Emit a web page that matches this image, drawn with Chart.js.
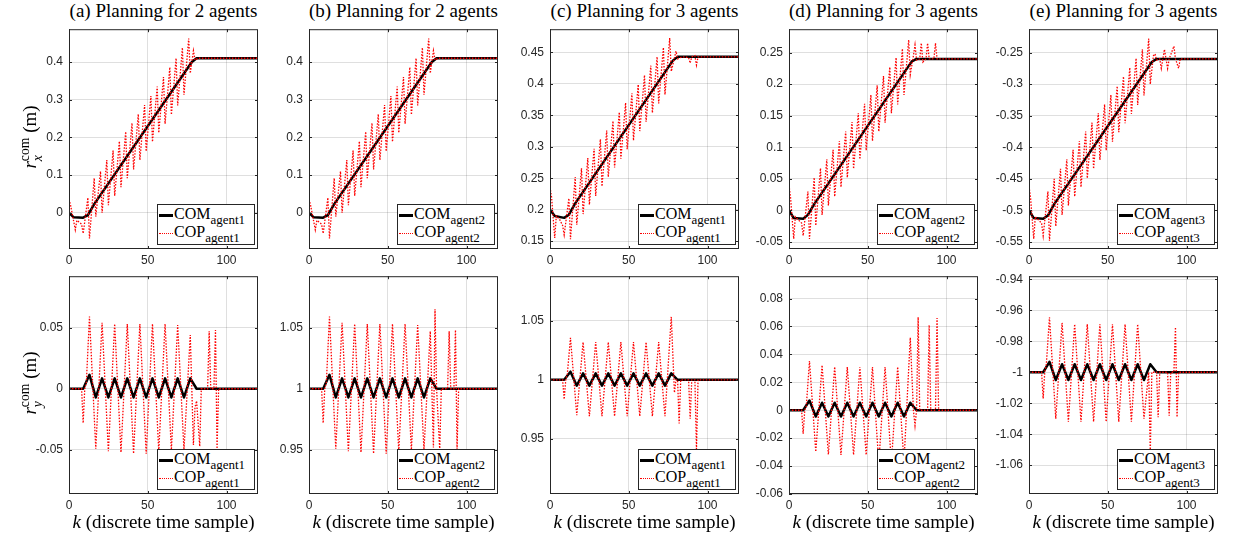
<!DOCTYPE html>
<html>
<head>
<meta charset="utf-8">
<script src="https://cdn.jsdelivr.net/npm/chart.js@4.4.1/dist/chart.umd.min.js"></script>
<style>
  body { margin: 0; background: #fff; width: 1236px; height: 537px; position: relative; overflow: hidden; font-family: 'Liberation Serif', 'DejaVu Serif', serif; color: #000; }
  .ax { position: absolute; }
  .ax canvas { display: block; }
  .title { position: absolute; top: 0; width: 189px; text-align: center; font-size: 19px; line-height: 21px; white-space: nowrap; }
  .xlabel { position: absolute; top: 511px; width: 189px; text-align: center; font-size: 19px; line-height: 22px; white-space: nowrap; }
  .ylabel { position: absolute; left: 31px; transform: translate(-50%, -50%) rotate(-90deg); font-size: 19px; white-space: nowrap; }
  .ss { display: inline-block; vertical-align: -0.45em; line-height: 0.95; font-size: 0.72em; text-align: left; }
  .ss span { display: block; }
  .leg { position: absolute; width: 98px; height: 41px; box-sizing: border-box; border: 1px solid #262626; background: #fff; font-size: 16px; }
  .leg .row { height: 18px; line-height: 18px; white-space: nowrap; padding-left: 1px; }
  .leg .sw { display: inline-block; width: 14px; vertical-align: middle; margin-right: 1px; }
  .leg .sw.com { border-top: 3px solid #000; }
  .leg .sw.cop { border-top: 1.5px dotted #f00; }
  .leg sub { font-size: 13px; vertical-align: -5px; line-height: 0; }
</style>
</head>
<body>
<script>
// sample axis
const kRange = [0, 120];
const kTicks = [0, 50, 100];

// ---- panel (a): agent1, 2-agent plan ----
const comXa = [[0,0],[3,-0.012],[9,-0.013],[12,-0.006],[16,0.023],[78,0.40],[81,0.41],[120,0.41]];
const copXa = [[0,0.036],[1,0.02],[4,-0.045],[5,-0.02],[8,-0.03],[9,-0.055],[12,0.04],[13,-0.068],
  [16,0.092],[17,-0.01],[20,0.11],[21,0.0],[24,0.14],[25,0.02],[28,0.165],[29,0.045],[32,0.19],[33,0.068],
  [36,0.215],[37,0.092],[40,0.238],[41,0.115],[44,0.262],[45,0.14],[48,0.286],[49,0.163],[52,0.31],[53,0.188],
  [56,0.335],[57,0.212],[60,0.36],[61,0.236],[64,0.386],[65,0.26],[68,0.41],[69,0.285],[72,0.438],[73,0.313],
  [76,0.462],[77,0.37],[79,0.43],[80,0.405],[82,0.41],[120,0.41]];
const comYa = [[0,0],[9,0],[13,0.0114],[17,-0.0071],[21,0.0085],[25,-0.0071],[29,0.0085],[33,-0.0071],
  [37,0.0085],[41,-0.0071],[45,0.0085],[49,-0.0071],[53,0.0085],[57,-0.0071],[61,0.0085],[65,-0.0071],
  [69,0.0085],[73,-0.0071],[77,0.0085],[81,0],[120,0]];
const copYa = [[0,0],[8,0],[9,-0.028],[10,0],[11,0.005],[13,0.059],[17,-0.049],[21,0.054],[25,-0.051],
  [29,0.053],[33,-0.052],[37,0.053],[41,-0.053],[45,0.053],[49,-0.053],[53,0.053],[57,-0.051],[61,0.053],
  [65,-0.05],[69,0.052],[73,-0.05],[77,0.044],[79,-0.046],[80,-0.015],[81,-0.01],[83,-0.047],[84,0],
  [88,0],[89,0.047],[90,0],[92,0],[93,0.048],[94,-0.049],[95,0],[120,0]];

// ---- panel (b): agent2, 2-agent plan ----
const comXb = comXa;
const copXb = copXa;
const comYb = [[0,1],[9,1],[13,1.0114],[17,0.9929],[21,1.0085],[25,0.9929],[29,1.0085],[33,0.9929],
  [37,1.0085],[41,0.9929],[45,1.0085],[49,0.9929],[53,1.0085],[57,0.9929],[61,1.0085],[65,0.9929],
  [69,1.0085],[73,0.9929],[77,1.0085],[81,1],[120,1]];
const copYb = [[0,1],[8,1],[9,0.972],[10,1],[11,1.005],[13,1.059],[17,0.951],[21,1.054],[25,0.949],
  [29,1.053],[33,0.948],[37,1.053],[41,0.947],[45,1.053],[49,0.947],[53,1.053],[57,0.949],[61,1.053],
  [65,0.95],[69,1.052],[73,0.95],[77,1.047],[79,0.952],[80,1.065],[81,1.0],[83,0.95],[84,1],
  [88,1],[89,1.047],[90,1],[92,1],[93,1.048],[94,0.951],[95,1],[120,1]];

// ---- panel (c): agent1, 3-agent plan ----
const comXc = [[0,0.2],[3,0.19],[9,0.187],[12,0.192],[16,0.21],[78,0.437],[81,0.443],[120,0.443]];
const copXc = [[0,0.236],[1,0.22],[3,0.155],[4,0.19],[6,0.185],[8,0.175],[9,0.16],[12,0.218],[13,0.153],
  [16,0.252],[17,0.176],[20,0.266],[21,0.193],[24,0.282],[25,0.208],[28,0.297],[29,0.222],[32,0.312],[33,0.237],
  [36,0.326],[37,0.252],[40,0.341],[41,0.267],[44,0.355],[45,0.281],[48,0.37],[49,0.296],[52,0.385],[53,0.31],
  [56,0.399],[57,0.325],[60,0.414],[61,0.34],[64,0.429],[65,0.354],[68,0.443],[69,0.369],[72,0.458],[73,0.383],
  [76,0.473],[77,0.42],[80,0.452],[81,0.44],[84,0.443],[88,0.442],[89,0.433],[90,0.443],[92,0.445],[93,0.43],
  [94,0.443],[120,0.443]];
const comYc = [[0,1],[9,1],[13,1.0069],[17,0.995],[21,1.0055],[25,0.995],[29,1.0055],[33,0.995],
  [37,1.0055],[41,0.995],[45,1.0055],[49,0.995],[53,1.0055],[57,0.995],[61,1.0055],[65,0.995],
  [69,1.0055],[73,0.995],[77,1.0055],[81,1],[120,1]];
const copYc = [[0,1],[8,1],[9,0.9834],[10,1],[11,1.005],[13,1.0356],[17,0.97],[21,1.032],[25,0.969],
  [29,1.032],[33,0.969],[37,1.032],[41,0.969],[45,1.032],[49,0.969],[53,1.032],[57,0.969],[61,1.032],
  [65,0.969],[69,1.032],[73,0.969],[77,1.0536],[79,0.989],[80,1],[81,1],[82,0.963],[83,1],[88,1],
  [89,0.967],[90,1],[92,1],[93,0.94],[94,1],[120,1]];

// ---- panel (d): agent2, 3-agent plan ----
const comXd = [[0,0],[3,-0.012],[9,-0.013],[12,-0.007],[16,0.01],[78,0.236],[81,0.24],[120,0.24]];
const copXd = [[0,0.04],[1,0.02],[3,-0.045],[4,-0.01],[8,-0.02],[9,-0.04],[12,0.03],[13,-0.045],
  [16,0.052],[17,-0.024],[20,0.067],[21,-0.007],[24,0.081],[25,0.008],[28,0.096],[29,0.022],[32,0.11],[33,0.037],
  [36,0.125],[37,0.052],[40,0.14],[41,0.066],[44,0.154],[45,0.081],[48,0.169],[49,0.095],[52,0.183],[53,0.11],
  [56,0.198],[57,0.125],[60,0.213],[61,0.139],[64,0.227],[65,0.154],[68,0.242],[69,0.168],[72,0.256],[73,0.183],
  [76,0.27],[77,0.215],[79,0.245],[80,0.262],[81,0.238],[83,0.24],[84,0.265],[85,0.235],[87,0.24],[88,0.265],
  [89,0.24],[92,0.24],[93,0.265],[94,0.24],[120,0.24]];
const comYd = [[0,0],[9,0],[13,0.007],[17,-0.0045],[21,0.0054],[25,-0.0045],[29,0.0054],[33,-0.0045],
  [37,0.0054],[41,-0.0045],[45,0.0054],[49,-0.0045],[53,0.0054],[57,-0.0045],[61,0.0054],[65,-0.0045],
  [69,0.0054],[73,-0.0045],[77,0.0054],[81,0],[120,0]];
const copYd = [[0,0],[8,0],[9,-0.0168],[10,0],[11,0.003],[13,0.0353],[17,-0.0297],[21,0.0323],[25,-0.0316],
  [29,0.031],[33,-0.032],[37,0.031],[41,-0.032],[45,0.031],[49,-0.032],[53,0.031],[57,-0.038],[61,0.031],
  [65,-0.038],[69,0.031],[73,-0.037],[77,0.052],[79,0],[80,-0.011],[81,0],[82,0.0667],[83,0],[88,0],
  [89,0.061],[90,0],[93,0],[94,0.066],[95,0],[120,0]];

// ---- panel (e): agent3, 3-agent plan ----
const comXe = [[0,-0.5],[3,-0.512],[9,-0.513],[12,-0.508],[16,-0.49],[78,-0.265],[81,-0.26],[120,-0.26]];
const copXe = [[0,-0.462],[1,-0.48],[3,-0.545],[4,-0.51],[8,-0.52],[9,-0.54],[12,-0.47],[13,-0.548],
  [16,-0.45],[17,-0.525],[20,-0.434],[21,-0.507],[24,-0.419],[25,-0.492],[28,-0.404],[29,-0.478],[32,-0.39],[33,-0.463],
  [36,-0.375],[37,-0.449],[40,-0.361],[41,-0.434],[44,-0.346],[45,-0.42],[48,-0.332],[49,-0.405],[52,-0.317],[53,-0.391],
  [56,-0.303],[57,-0.376],[60,-0.288],[61,-0.362],[64,-0.274],[65,-0.347],[68,-0.259],[69,-0.333],[72,-0.245],[73,-0.318],
  [76,-0.228],[77,-0.3],[79,-0.255],[80,-0.252],[81,-0.262],[83,-0.26],[84,-0.275],[86,-0.245],[88,-0.275],
  [89,-0.26],[92,-0.24],[93,-0.26],[95,-0.275],[96,-0.26],[120,-0.26]];
const comYe = [[0,-1],[9,-1],[13,-0.9933],[17,-1.005],[21,-0.9948],[25,-1.005],[29,-0.9948],[33,-1.005],
  [37,-0.9948],[41,-1.005],[45,-0.9948],[49,-1.005],[53,-0.9948],[57,-1.005],[61,-0.9948],[65,-1.005],
  [69,-0.9948],[73,-1.005],[77,-0.9948],[81,-1],[120,-1]];
const copYe = [[0,-1],[8,-1],[9,-1.017],[10,-1],[11,-0.995],[13,-0.9646],[17,-1.03],[21,-0.968],[25,-1.032],
  [29,-0.969],[33,-1.032],[37,-0.969],[41,-1.032],[45,-0.969],[49,-1.032],[53,-0.969],[57,-1.032],[61,-0.969],
  [65,-1.032],[69,-0.969],[73,-1.03],[76,-1.0],[77,-1.052],[78,-1],[81,-1],[82,-1.029],[83,-1],[88,-1],
  [89,-1.028],[90,-1],[92,-1],[93,-0.971],[94,-1.029],[95,-1],[120,-1]];

// y tick labels per axes
const ticksXab = [0, 0.1, 0.2, 0.3, 0.4];
const ticksYa = [-0.05, 0, 0.05];
const ticksYbc = [0.95, 1, 1.05];
const ticksXc = [0.15, 0.2, 0.25, 0.3, 0.35, 0.4, 0.45];
const ticksXd = [-0.05, 0, 0.05, 0.1, 0.15, 0.2, 0.25];
const ticksYd = [-0.06, -0.04, -0.02, 0, 0.02, 0.04, 0.06, 0.08];
const ticksXe = [-0.55, -0.5, -0.45, -0.4, -0.35, -0.3, -0.25];
const ticksYe = [-1.06, -1.04, -1.02, -1, -0.98, -0.96, -0.94];

const panels = [
  { title: '(a) Planning for 2 agents', agent: 'agent1', left: 69,
    top: { com: comXa, cop: copXa, range: [-0.096, 0.487], ticks: ticksXab },
    bot: { com: comYa, cop: copYa, range: [-0.086, 0.092], ticks: ticksYa } },
  { title: '(b) Planning for 2 agents', agent: 'agent2', left: 309,
    top: { com: comXb, cop: copXb, range: [-0.096, 0.487], ticks: ticksXab },
    bot: { com: comYb, cop: copYb, range: [0.914, 1.092], ticks: ticksYbc } },
  { title: '(c) Planning for 3 agents', agent: 'agent1', left: 550,
    top: { com: comXc, cop: copXc, range: [0.1375, 0.487], ticks: ticksXc },
    bot: { com: comYc, cop: copYc, range: [0.903, 1.088], ticks: ticksYbc } },
  { title: '(d) Planning for 3 agents', agent: 'agent2', left: 789,
    top: { com: comXd, cop: copXd, range: [-0.061, 0.287], ticks: ticksXd },
    bot: { com: comYd, cop: copYd, range: [-0.06, 0.096], ticks: ticksYd } },
  { title: '(e) Planning for 3 agents', agent: 'agent3', left: 1029,
    top: { com: comXe, cop: copXe, range: [-0.561, -0.213], ticks: ticksXe },
    bot: { com: comYe, cop: copYe, range: [-1.0786, -0.938], ticks: ticksYe } }
];

const AX_W = 189, PAD_L = 50, PAD_T = 8, PAD_R = 8, PAD_B = 24;
const ROW_TOP = 24, ROW_TOP_H = 225, ROW_BOT = 271, ROW_BOT_H = 223;
const tickFont = { family: "'Liberation Sans', Arial, sans-serif", size: 12 };
const gridColor = 'rgba(38, 38, 38, 0.15)';

// MATLAB-style box with inward tick marks on all four sides
const axesBox = {
  id: 'axesBox',
  afterDraw(chart) {
    const { ctx, chartArea: a, scales } = chart;
    ctx.save();
    ctx.strokeStyle = '#262626';
    ctx.lineWidth = 1;
    ctx.beginPath();
    scales.x.ticks.forEach(t => {
      const px = Math.round(scales.x.getPixelForValue(t.value)) + 0.5;
      ctx.moveTo(px, a.bottom); ctx.lineTo(px, a.bottom - 3);
      ctx.moveTo(px, a.top); ctx.lineTo(px, a.top + 3);
    });
    scales.y.ticks.forEach(t => {
      const py = Math.round(scales.y.getPixelForValue(t.value)) + 0.5;
      ctx.moveTo(a.left, py); ctx.lineTo(a.left + 3, py);
      ctx.moveTo(a.right, py); ctx.lineTo(a.right - 3, py);
    });
    ctx.stroke();
    ctx.strokeRect(a.left + 0.5, a.top + 0.5, a.right - a.left - 1, a.bottom - a.top - 1);
    ctx.restore();
  }
};

const toPoints = pairs => pairs.map(([x, y]) => ({ x, y }));

function drawAxes(left, top, height, s, agent) {
  const wrap = document.createElement('div');
  wrap.className = 'ax';
  wrap.style.left = (left - PAD_L) + 'px';
  wrap.style.top = (top - PAD_T) + 'px';
  const cv = document.createElement('canvas');
  cv.width = PAD_L + AX_W + PAD_R;
  cv.height = PAD_T + height + PAD_B;
  wrap.appendChild(cv);
  document.body.appendChild(wrap);

  new Chart(cv, {
    type: 'scatter',
    data: {
      datasets: [
        { label: 'COM', data: toPoints(s.com), showLine: true, borderColor: '#000', borderWidth: 2.5,
          borderJoinStyle: 'round', pointRadius: 0, order: 2 },
        { label: 'COP', data: toPoints(s.cop), showLine: true, borderColor: '#ff0000', borderWidth: 1.3,
          borderDash: [1.5, 1.5], pointRadius: 0, order: 1 }
      ]
    },
    options: {
      responsive: false,
      animation: false,
      events: [],
      layout: { padding: { top: PAD_T, right: PAD_R, left: 0, bottom: 0 } },
      plugins: { legend: { display: false }, tooltip: { enabled: false } },
      scales: {
        x: {
          type: 'linear', min: kRange[0], max: kRange[1],
          afterBuildTicks: sc => { sc.ticks = kTicks.map(v => ({ value: v })); },
          afterFit: sc => { sc.height = PAD_B; },
          grid: { color: gridColor, drawTicks: false },
          border: { display: false },
          ticks: { padding: 4, font: tickFont, color: '#262626', maxRotation: 0, callback: v => String(v) }
        },
        y: {
          type: 'linear', min: s.range[0], max: s.range[1],
          afterBuildTicks: sc => { sc.ticks = s.ticks.map(v => ({ value: v })); },
          afterFit: sc => { sc.width = PAD_L; },
          grid: { color: gridColor, drawTicks: false },
          border: { display: false },
          ticks: { padding: 6, font: tickFont, color: '#262626', callback: v => String(v) }
        }
      }
    },
    plugins: [axesBox]
  });

  // legend box in the lower right corner
  const leg = document.createElement('div');
  leg.className = 'leg';
  leg.style.left = (left + AX_W - 3 - 98) + 'px';
  leg.style.top = (top + height - 4 - 41) + 'px';
  leg.innerHTML =
    `<div class="row"><span class="sw com"></span>COM<sub>${agent}</sub></div>` +
    `<div class="row"><span class="sw cop"></span>COP<sub>${agent}</sub></div>`;
  document.body.appendChild(leg);
}

panels.forEach(p => {
  const t = document.createElement('div');
  t.className = 'title';
  t.style.left = p.left + 'px';
  t.textContent = p.title;
  document.body.appendChild(t);

  drawAxes(p.left, ROW_TOP, ROW_TOP_H, p.top, p.agent);
  drawAxes(p.left, ROW_BOT, ROW_BOT_H, p.bot, p.agent);

  const xl = document.createElement('div');
  xl.className = 'xlabel';
  xl.style.left = p.left + 'px';
  xl.innerHTML = '<i>k</i> (discrete time sample)';
  document.body.appendChild(xl);
});

// y-axis labels of the first column
[['x', ROW_TOP + ROW_TOP_H / 2], ['y', ROW_BOT + ROW_BOT_H / 2]].forEach(([c, mid]) => {
  const yl = document.createElement('div');
  yl.className = 'ylabel';
  yl.style.top = mid + 'px';
  yl.innerHTML = `<i>r</i><span class="ss"><span>com</span><span><i>${c}</i></span></span> (m)`;
  document.body.appendChild(yl);
});
</script>
</body>
</html>
